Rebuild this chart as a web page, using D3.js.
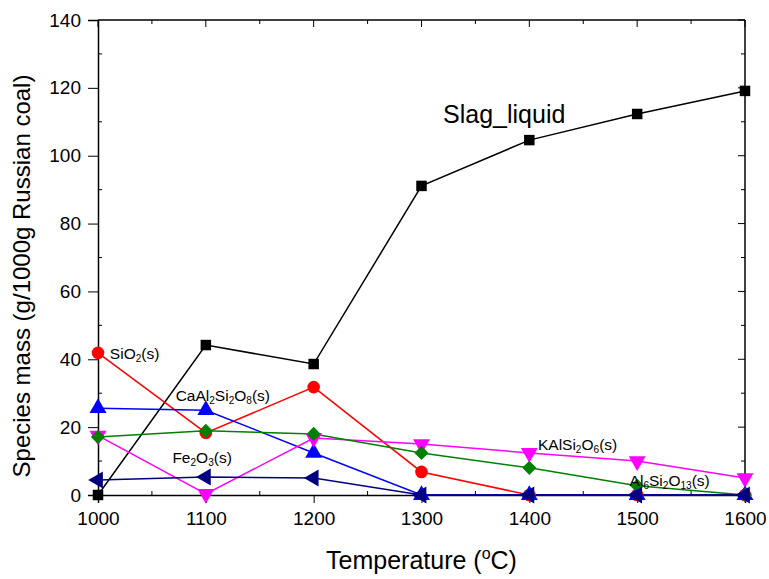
<!DOCTYPE html>
<html>
<head>
<meta charset="utf-8">
<script src="https://cdn.jsdelivr.net/npm/d3@7"></script>
<style>
  body { margin: 0; background: #fff; }
  text { font-family: "Liberation Sans", Arial, sans-serif; }
</style>
</head>
<body>
<svg id="chart" width="769" height="579"></svg>
<script>
const temps = [1000, 1100, 1200, 1300, 1400, 1500, 1600];
const slagLiquid = [0, 44.2, 38.6, 91.1, 104.6, 112.3, 119.1];
const sio2 = [41.9, 18.3, 31.8, 6.8, 0, 0, 0];
const caAl2Si2O8 = [25.6, 25.0, 12.4, 0, 0, 0, 0];
const kAlSi2O6 = [17.5, 0.3, 16.8, 15.0, 12.4, 10.0, 5.0];
const al6Si2O13 = [17.1, 18.9, 18.0, 12.4, 8.0, 2.7, 0];
const fe2O3 = [4.4, 5.3, 5.0, 0, 0, 0, 0];
const yTicks = [0, 20, 40, 60, 80, 100, 120, 140];

const svg = d3.select("#chart");
const margin = { top: 20, right: 24, bottom: 84, left: 98 };
const width = 769, height = 579;
const chartWidth = width - margin.left - margin.right;
const chartHeight = height - margin.top - margin.bottom;

const g = svg.append("g")
  .attr("transform", `translate(${margin.left},${margin.top})`);

const x = d3.scaleLinear().domain([1000, 1600]).range([0, chartWidth]);
const y = d3.scaleLinear().domain([0, 140]).range([chartHeight, 0]);

// series: values, colour, marker
const series = [
  { values: slagLiquid, color: "#000000", marker: "square" },
  { values: sio2, color: "#ff0000", marker: "circle" },
  { values: caAl2Si2O8, color: "#0000ff", marker: "up" },
  { values: kAlSi2O6, color: "#ff00ff", marker: "down" },
  { values: al6Si2O13, color: "#008000", marker: "diamond" },
  { values: fe2O3, color: "#000080", marker: "left" }
];

const minorX = d3.range(1050, 1600, 100);
const minorY = d3.range(10, 140, 20);

// bottom axis: major out, minor in
const bottomAxis = g.append("g").attr("transform", `translate(0,${chartHeight})`);
bottomAxis.call(d3.axisBottom(x).tickValues(temps).tickFormat(d3.format("d")).tickSize(8).tickPadding(9));
minorX.forEach(v => bottomAxis.append("line").attr("x1", x(v)).attr("x2", x(v)).attr("y2", -4).attr("stroke", "#000"));

const leftAxis = g.append("g");
leftAxis.call(d3.axisLeft(y).tickValues(yTicks).tickSize(10).tickPadding(7));
minorY.forEach(v => leftAxis.append("line").attr("y1", y(v)).attr("y2", y(v)).attr("x2", 4).attr("stroke", "#000"));

// top + right: ticks inward
const topAxis = g.append("g");
topAxis.append("line").attr("x2", chartWidth).attr("stroke", "#000").attr("stroke-width", 1.5);
temps.concat(minorX).forEach(v => topAxis.append("line")
  .attr("x1", x(v)).attr("x2", x(v)).attr("y2", temps.includes(v) ? 7 : 4).attr("stroke", "#000"));
const rightAxis = g.append("g").attr("transform", `translate(${chartWidth},0)`);
rightAxis.append("line").attr("y2", chartHeight).attr("stroke", "#000").attr("stroke-width", 1.5);
yTicks.concat(minorY).forEach(v => rightAxis.append("line")
  .attr("y1", y(v)).attr("y2", y(v)).attr("x2", yTicks.includes(v) ? -7 : -4).attr("stroke", "#000"));

g.selectAll(".domain").attr("stroke-width", 1.5);
g.selectAll(".tick text").attr("font-size", 19).attr("fill", "#000")
  .style("font-family", "Liberation Sans, Arial, sans-serif");

// lines and markers
const line = d3.line().x((d, i) => x(temps[i])).y(d => y(d));

const symbols = {
  square: d3.symbol().type(d3.symbolSquare).size(110),
  circle: d3.symbol().type(d3.symbolCircle).size(125),
  up: d3.symbol().type(d3.symbolTriangle).size(125),
  down: d3.symbol().type(d3.symbolTriangle).size(125),
  left: d3.symbol().type(d3.symbolTriangle).size(125),
  diamond: d3.symbol().type(d3.symbolSquare).size(100)
};
const rotations = { square: 0, circle: 0, up: 0, down: 180, left: -90, diamond: 45 };

series.forEach(s => {
  g.append("path")
    .datum(s.values)
    .attr("fill", "none")
    .attr("stroke", s.color)
    .attr("stroke-width", 1.5)
    .attr("d", line);
});
series.forEach(s => {
  g.selectAll(null)
    .data(s.values)
    .join("path")
    .attr("d", symbols[s.marker])
    .attr("fill", s.color)
    .attr("transform", (d, i) => `translate(${x(temps[i])},${y(d)}) rotate(${rotations[s.marker]})`);
});

// annotations in data units; parts: [text, isSubscript]
const labels = [
  { t: 1011, v: 40.1, size: 15.5, parts: [["SiO", 0], ["2", 1], ["(s)", 0]] },
  { t: 1072, v: 27.7, size: 15.5, parts: [["CaAl", 0], ["2", 1], ["Si", 0], ["2", 1], ["O", 0], ["8", 1], ["(s)", 0]] },
  { t: 1069, v: 9.4, size: 15.5, parts: [["Fe", 0], ["2", 1], ["O", 0], ["3", 1], ["(s)", 0]] },
  { t: 1408, v: 13.3, size: 15.5, parts: [["KAlSi", 0], ["2", 1], ["O", 0], ["6", 1], ["(s)", 0]] },
  { t: 1493, v: 2.7, size: 15.5, parts: [["Al", 0], ["6", 1], ["Si", 0], ["2", 1], ["O", 0], ["13", 1], ["(s)", 0]] },
  { t: 1320, v: 109.6, size: 25, parts: [["Slag_liquid", 0]] }
];
labels.forEach(l => {
  const txt = g.append("text")
    .attr("x", x(l.t))
    .attr("y", y(l.v))
    .attr("font-size", l.size)
    .attr("fill", "#000");
  l.parts.forEach(p => {
    txt.append("tspan")
      .attr("font-size", p[1] ? l.size * 0.65 : l.size)
      .attr("baseline-shift", p[1] ? "-30%" : null)
      .text(p[0]);
  });
});

// axis titles
const xt = svg.append("text")
  .attr("x", margin.left + chartWidth / 2)
  .attr("y", 569)
  .attr("text-anchor", "middle")
  .attr("font-size", 25)
  .attr("fill", "#000");
xt.append("tspan").text("Temperature (");
xt.append("tspan").attr("font-size", 16).attr("baseline-shift", "60%").text("o");
xt.append("tspan").text("C)");

svg.append("text")
  .attr("transform", "rotate(-90)")
  .attr("x", -276)
  .attr("y", 30)
  .attr("text-anchor", "middle")
  .attr("font-size", 24)
  .attr("fill", "#000")
  .text("Species mass (g/1000g Russian coal)");
</script>
</body>
</html>
